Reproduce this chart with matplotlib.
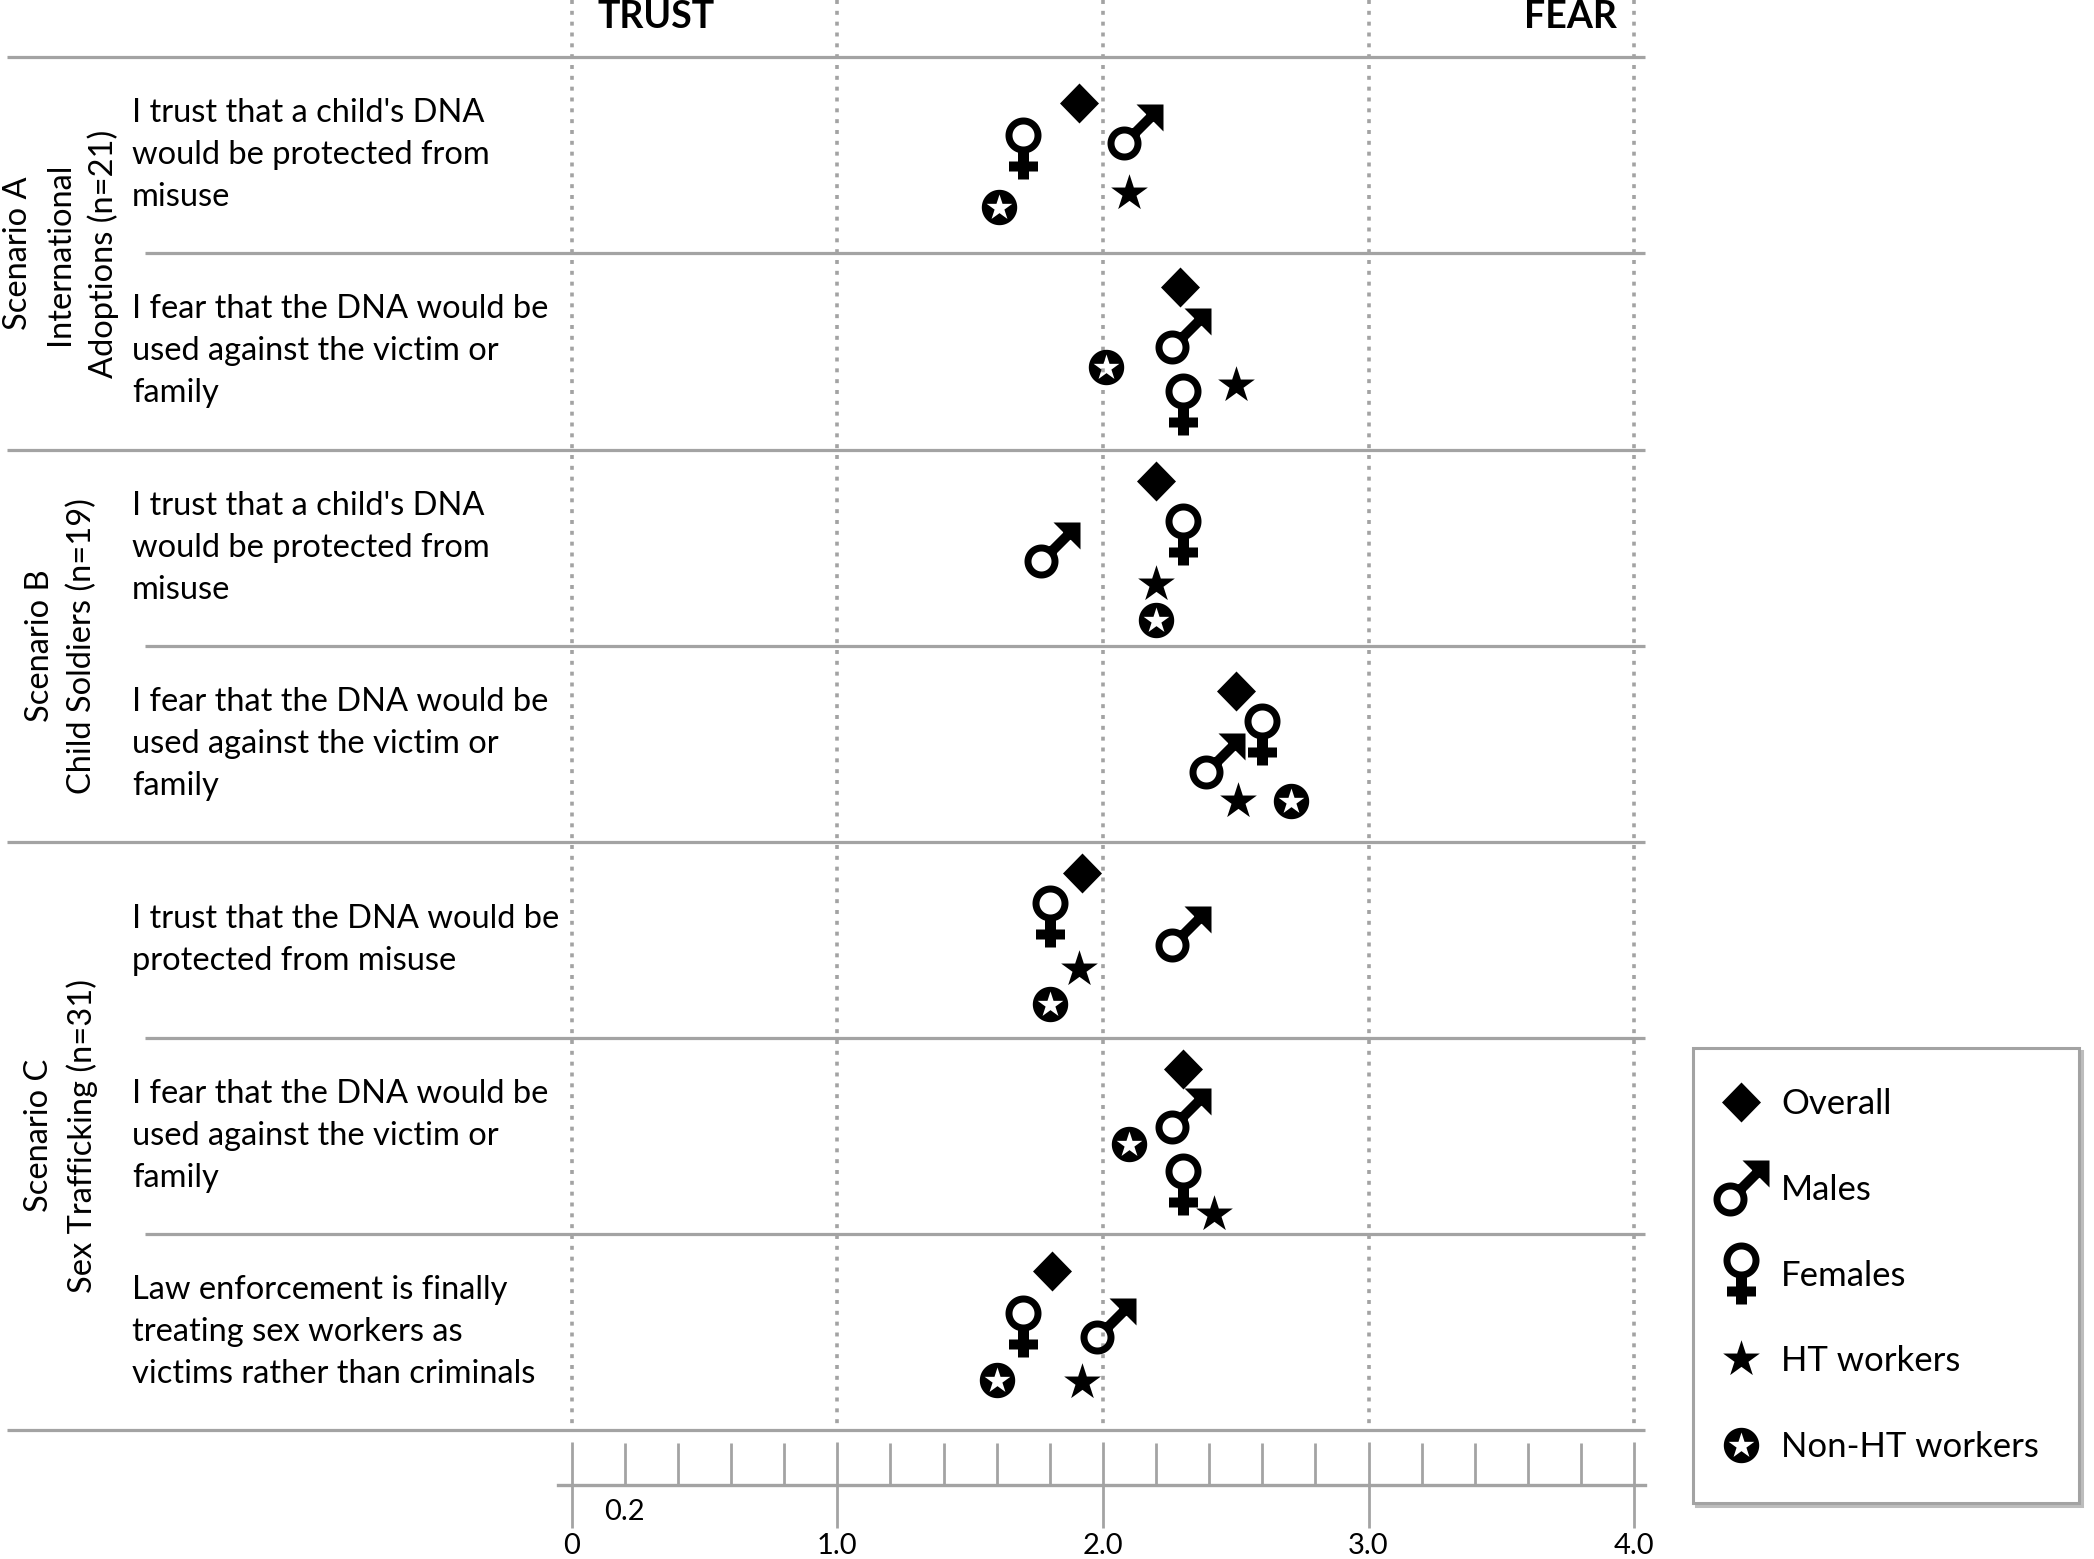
import numpy as np
import matplotlib.pyplot as plt
from matplotlib.path import Path
from matplotlib.lines import Line2D

plt.rcParams['font.family'] = ['Lato', 'DejaVu Sans']

# ---- data ----
statements = [
    "I trust that a child's DNA\nwould be protected from\nmisuse",
    "I fear that the DNA would be\nused against the victim or\nfamily",
    "I trust that a child's DNA\nwould be protected from\nmisuse",
    "I fear that the DNA would be\nused against the victim or\nfamily",
    "I trust that the DNA would be\nprotected from misuse",
    "I fear that the DNA would be\nused against the victim or\nfamily",
    "Law enforcement is finally\ntreating sex workers as\nvictims rather than criminals",
]
scenarios = [
    "Scenario A\nInternational\nAdoptions (n=21)",
    "Scenario B\nChild Soldiers (n=19)",
    "Scenario C\nSex Trafficking (n=31)",
]
scenario_rows = [(0, 2), (2, 4), (4, 7)]

groups = ["Overall", "Males", "Females", "HT workers", "Non-HT workers"]
overall = [1.91, 2.29, 2.20, 2.50, 1.92, 2.30, 1.81]
males = [2.12, 2.30, 1.81, 2.43, 2.30, 2.30, 2.02]
females = [1.70, 2.30, 2.30, 2.60, 1.80, 2.30, 1.70]
ht_workers = [2.10, 2.50, 2.20, 2.51, 1.91, 2.42, 1.92]
non_ht_workers = [1.61, 2.01, 2.20, 2.71, 1.80, 2.10, 1.60]

major_ticks = [0, 1, 2, 3, 4]
major_labels = ["0", "1.0", "2.0", "3.0", "4.0"]

# ---- layout (figure pixels) ----
W, H = 2094, 1559
X0, PX = 571.7, 265.6      # pixel of value 0 and pixels per unit
Y0, ROW = 57.3, 196.1      # top line and row height
GRAY = '#a3a3a3'
FS = 23.5

# where each symbol sits inside its row (0 = top line, 1 = bottom line)
row_spot = {
    "Overall":        [.235, .17, .16, .23, .16, .16, .19],
    "Males":          [.38, .42, .51, .59, .47, .40, .47],
    "Females":        [.46, .77, .43, .45, .38, .745, .47],
    "HT workers":     [.69, .67, .685, .79, .65, .90, .755],
    "Non-HT workers": [.765, .58, .87, .79, .83, .54, .745],
}


def px_x(p):
    return (p - X0) / PX


def px_y(p):
    return (p - Y0) / ROW


# ---- symbol shapes, in pixels ----
def poly(pts, hole=False):
    pts = np.asarray(pts, float)
    x, y = pts[:, 0], pts[:, 1]
    area = np.sum(x * np.roll(y, -1) - np.roll(x, -1) * y)
    if (area < 0) != hole:
        pts = pts[::-1]
    return Path(np.vstack([pts, pts[:1]]), closed=True)


def circle(cx, cy, r, n=90):
    t = np.linspace(0, 2 * np.pi, n, endpoint=False)
    return np.c_[cx + r * np.cos(t), cy + r * np.sin(t)]


def star(cx, cy, r, inner=0.382):
    k = np.arange(10)
    t = np.pi / 2 + k * np.pi / 5
    rr = np.where(k % 2 == 0, r, r * inner)
    return np.c_[cx + rr * np.cos(t), cy + rr * np.sin(t)]


def box(x0, x1, y0, y1):
    return [[x0, y0], [x1, y0], [x1, y1], [x0, y1]]


diamond = poly([[19.5, 0], [0, 20], [-19.5, 0], [0, -20]])

female = Path.make_compound_path(
    poly(circle(0, 13, 18)), poly(circle(0, 13, 11), hole=True),
    poly(box(-5.5, 5.5, -31, -4)), poly(box(-14.5, 14.5, -23, -13)))

c = np.array([-11.0, -11.0])
tip = np.array([28.0, 28.0])
d = np.array([1.0, 1.0]) / np.sqrt(2)
nrm = np.array([-1.0, 1.0]) / np.sqrt(2)
s, e = c + d * 15, tip - d * 9
shaft = [s + nrm * 5, s - nrm * 5, e - nrm * 5, e + nrm * 5]
head = [tip, tip + [-27, 0], tip + [-17, -10], tip + [-10, -10],
        tip + [-10, -17], tip + [0, -27]]
male = Path.make_compound_path(
    poly(circle(*c, 17)), poly(circle(*c, 10), hole=True),
    poly(shaft), poly(head))

ht_star = poly(star(0, 0, 19.3))
non_ht = Path.make_compound_path(poly(circle(0, 0, 17.7)),
                                 poly(star(0, -0.5, 13.5), hole=True))


def msize(path):
    return 2 * np.abs(path.vertices).max() * 72 / 100


series = [overall, males, females, ht_workers, non_ht_workers]
shapes = [diamond, male, female, ht_star, non_ht]

# ---- figure ----
fig = plt.figure(figsize=(W / 100, H / 100), dpi=100)
ax = fig.add_axes([0, 0, 1, 1])
ax.set_xlim(px_x(0), px_x(W))
ax.set_ylim(px_y(H), px_y(0))

n = len(statements)
rows = np.arange(n)

# row separators
full = sorted({r for pair in scenario_rows for r in pair})
part = [r for r in range(1, n) if r not in full]
ax.hlines(full, px_x(7), px_x(1645), color=GRAY, lw=2.3, zorder=1)
ax.hlines(part, px_x(145), px_x(1645), color=GRAY, lw=2.3, zorder=1)

# dotted guides at the major values
ax.vlines(major_ticks, px_y(0), n, color=GRAY, lw=2.6,
          linestyles=(0, (1.1, 1.9)), zorder=1)

for name, vals, shape in zip(groups, series, shapes):
    ax.plot(vals, rows + np.array(row_spot[name]), ls='none', marker=shape,
            ms=msize(shape), mfc='black', mec='black', mew=0, zorder=4)

for i, txt in enumerate(statements):
    ax.text(px_x(132), i + 0.5, txt, ha='left', va='center', fontsize=FS,
            linespacing=1.5, color='black')

for (r0, r1), txt in zip(scenario_rows, scenarios):
    ax.text(px_x(61), (r0 + r1) / 2, txt, rotation=90, ha='center',
            va='center', multialignment='center', fontsize=FS,
            linespacing=1.5, color='black')

ax.text(px_x(656), px_y(28), "TRUST", ha='center', va='baseline',
        fontsize=27, fontweight='bold')
ax.text(px_x(1570), px_y(28), "FEAR", ha='center', va='baseline',
        fontsize=27, fontweight='bold')

# ruler underneath
for side in ['top', 'left', 'right']:
    ax.spines[side].set_visible(False)
ax.spines['bottom'].set_position(('data', px_y(1485)))
ax.spines['bottom'].set_bounds(px_x(558), px_x(1645))
ax.spines['bottom'].set_color(GRAY)
ax.spines['bottom'].set_linewidth(2.4)
ax.set_xticks(major_ticks, major_labels)
minor = [round(v, 1) for v in np.arange(0.2, 4.0, 0.2) if round(v, 1) % 1]
ax.set_xticks(minor, ["0.2" if v == 0.2 else "" for v in minor], minor=True)
ax.tick_params(axis='x', which='major', direction='inout', length=62,
               width=2, color=GRAY, pad=3.5, labelsize=21)
ax.tick_params(axis='x', which='minor', direction='in', length=30,
               width=2, color=GRAY, pad=10, labelsize=21)
ax.set_yticks([])
ax.set_xlim(px_x(0), px_x(W))

handles = [Line2D([], [], ls='none', marker=shape, ms=msize(shape),
                  mfc='black', mec='black', mew=0) for shape in shapes]
leg = ax.legend(handles, groups, loc='upper left',
                bbox_to_anchor=(1693 / W, 1 - 1048 / H),
                bbox_transform=fig.transFigure, borderaxespad=0,
                fontsize=25, frameon=True, fancybox=False,
                borderpad=1.15, labelspacing=1.55, handlelength=0.48,
                handletextpad=0.91,
                shadow={'color': '#bdbdbd', 'alpha': 1})
leg.get_frame().set_edgecolor(GRAY)
leg.get_frame().set_linewidth(2.2)

fig.savefig('out.png', dpi=100)
